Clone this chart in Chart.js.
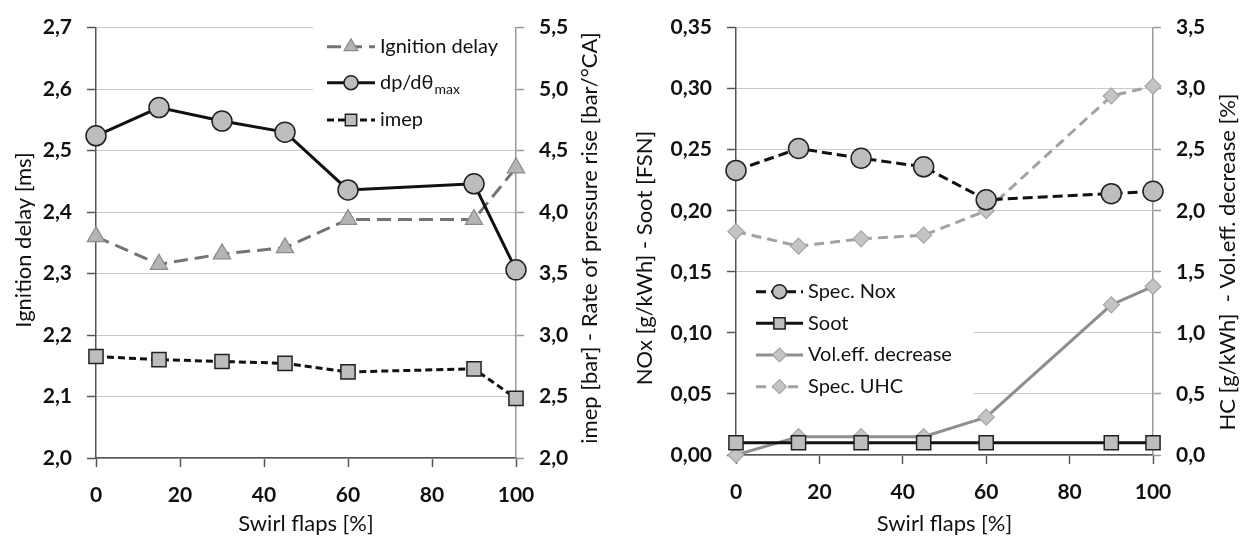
<!DOCTYPE html>
<html>
<head>
<meta charset="utf-8">
<script src="https://cdn.jsdelivr.net/npm/chart.js@4.4.1/dist/chart.umd.min.js"></script>
<style>
html,body{margin:0;padding:0;background:#fff;}
#wrap{position:relative;width:1251px;height:547px;overflow:hidden;}
canvas{position:absolute;top:0;}
#c1{left:0;}
#c2{left:625px;}
</style>
</head>
<body>
<div id="wrap">
<canvas id="c1" width="625" height="547"></canvas>
<canvas id="c2" width="626" height="547"></canvas>
</div>
<script>
// swirl flap position (x axis, both charts)
var swirl = [0, 15, 30, 45, 60, 90, 100];

// left chart
var ignitionDelay = [2.360, 2.315, 2.332, 2.342, 2.388, 2.388, 2.472]; // ms, left axis
var dpdtMax = [4.62, 4.85, 4.74, 4.65, 4.18, 4.23, 3.53];             // bar/°CA, right axis
var imep = [2.825, 2.80, 2.785, 2.77, 2.70, 2.725, 2.485];             // bar, right axis

// right chart
var specNox = [0.233, 0.251, 0.243, 0.236, 0.209, 0.214, 0.216];       // g/kWh, left axis
var soot = [0.01, 0.01, 0.01, 0.01, 0.01, 0.01, 0.01];                 // FSN, left axis
var volEffDecrease = [0.0, 0.15, 0.15, 0.15, 0.31, 1.23, 1.38];         // %, right axis
var specUHC = [1.83, 1.71, 1.77, 1.80, 2.00, 2.94, 3.02];               // g/kWh, right axis

var xTitle = 'Swirl flaps [%]';
var leftTitles = ['Ignition delay [ms]', 'imep [bar] - Rate of pressure rise [bar/°CA]'];
var rightTitles = ['NOx [g/kWh] - Soot [FSN]', 'HC [g/kWh]  - Vol.eff. decrease [%]'];

var FONT = 'Lato, "Open Sans", sans-serif';
var TXT = '#111';

function pts(ys) {
  return swirl.map(function (x, i) { return {x: x, y: ys[i]}; });
}
function comma(digits) {
  return function (v) { return v.toFixed(digits).replace('.', ','); };
}

// draws the legend box inside the plot and the rotated y titles
var extras = {
  id: 'extras',
  afterDraw: function (chart, args, o) {
    var ctx = chart.ctx;
    ctx.save();
    // white legend box
    ctx.fillStyle = '#fff';
    ctx.fillRect(o.box[0], o.box[1], o.box[2], o.box[3]);
    var ds = chart.data.datasets;
    for (var i = 0; i < ds.length; i++) {
      var d = ds[i], y = o.rows[i];
      ctx.strokeStyle = d.borderColor;
      ctx.lineWidth = d.borderWidth;
      ctx.setLineDash(d.borderDash || []);
      ctx.beginPath();
      ctx.moveTo(o.line[0], y);
      ctx.lineTo(o.line[1], y);
      ctx.stroke();
      ctx.setLineDash([]);
      ctx.fillStyle = d.pointBackgroundColor;
      ctx.strokeStyle = d.pointBorderColor;
      ctx.lineWidth = d.pointBorderWidth;
      Chart.helpers.drawPoint(ctx, {pointStyle: d.pointStyle, radius: d.legendRadius, rotation: 0, borderWidth: d.pointBorderWidth}, (o.line[0] + o.line[1]) / 2, y);
      ctx.fillStyle = TXT;
      ctx.font = '20px ' + FONT;
      ctx.textBaseline = 'middle';
      ctx.textAlign = 'left';
      ctx.fillText(d.label, o.textX, y);
      if (d.labelSub) {
        var w = ctx.measureText(d.label).width;
        ctx.font = '14px ' + FONT;
        ctx.fillText(d.labelSub, o.textX + w + 1, y + 7);
      }
    }
    // y axis titles, both reading bottom to top
    ctx.font = '22px ' + FONT;
    ctx.fillStyle = TXT;
    ctx.textAlign = 'center';
    ctx.textBaseline = 'middle';
    o.titles.forEach(function (t) {
      ctx.save();
      ctx.translate(t.x, t.y);
      ctx.rotate(-Math.PI / 2);
      ctx.fillText(t.text, 0, 0);
      ctx.restore();
    });
    ctx.restore();
  }
};

function scales(o) {
  var tickFont = {family: FONT, size: 21, weight: 'bold'};
  return {
    x: {
      type: 'linear', min: 0, max: 100,
      ticks: {stepSize: 20, color: TXT, font: tickFont, padding: 16, maxRotation: 0},
      grid: {drawOnChartArea: false, tickLength: 9, tickColor: '#555', tickWidth: 1.5},
      border: {color: '#555', width: 1.5},
      title: {display: true, text: xTitle, color: TXT, font: {family: FONT, size: 22}, padding: {top: 0, bottom: 10}},
      afterFit: function (s) { s.height = o.bottomH; }
    },
    y: {
      position: 'left', min: o.y1[0], max: o.y1[1],
      ticks: {stepSize: o.y1[2], color: TXT, font: tickFont, padding: 15, callback: comma(o.y1[3])},
      grid: {color: '#c8c8c8', lineWidth: 1, tickLength: 9, tickColor: '#555', tickWidth: 1.5},
      border: {color: '#555', width: 1.5},
      afterFit: function (s) { s.width = o.leftW; }
    },
    y2: {
      position: 'right', min: o.y2[0], max: o.y2[1],
      ticks: {stepSize: o.y2[2], color: TXT, font: tickFont, padding: 15, callback: comma(o.y2[3])},
      grid: {drawOnChartArea: false, tickLength: 8, tickColor: '#999', tickWidth: 1.5},
      border: {color: '#999', width: 1.5},
      afterFit: function (s) { s.width = o.rightW; }
    }
  };
}

var base = {
  responsive: false,
  animation: false,
  layout: {padding: {top: 18, left: 0, right: 0, bottom: 0}},
  elements: {line: {tension: 0}}
};

new Chart(document.getElementById('c1'), {
  type: 'line',
  data: {
    datasets: [
      {label: 'Ignition delay', data: pts(ignitionDelay), yAxisID: 'y', order: 1, clip: false,
       borderColor: '#747474', borderWidth: 3, borderDash: [14, 7],
       pointStyle: 'triangle', pointRadius: 10, legendRadius: 8,
       pointBackgroundColor: '#b4b4b4', pointBorderColor: '#8a8a8a', pointBorderWidth: 1.2},
      {label: 'dp/dθ', labelSub: 'max', data: pts(dpdtMax), yAxisID: 'y2', order: 0, clip: false,
       borderColor: '#111', borderWidth: 3,
       pointStyle: 'circle', pointRadius: 10, legendRadius: 7,
       pointBackgroundColor: '#bdbdbd', pointBorderColor: '#222', pointBorderWidth: 1.5},
      {label: 'imep', data: pts(imep), yAxisID: 'y2', order: 2, clip: false,
       borderColor: '#111', borderWidth: 3, borderDash: [7, 4],
       pointStyle: 'rect', pointRadius: 10, legendRadius: 8,
       pointBackgroundColor: '#bdbdbd', pointBorderColor: '#222', pointBorderWidth: 1.5}
    ]
  },
  options: Object.assign({}, base, {
    scales: scales({leftW: 96, rightW: 109, bottomH: 89, y1: [2.0, 2.7, 0.1, 1], y2: [2.0, 5.5, 0.5, 1]}),
    plugins: {
      legend: {display: false}, tooltip: {enabled: false},
      extras: {box: [313, 25, 201, 113], rows: [46.7, 82.7, 120], line: [327, 375], textX: 380,
        titles: [{text: leftTitles[0], x: 24, y: 240}, {text: leftTitles[1], x: 590, y: 238}]}
    }
  }),
  plugins: [extras]
});

new Chart(document.getElementById('c2'), {
  type: 'line',
  data: {
    datasets: [
      {label: 'Spec. Nox', data: pts(specNox), yAxisID: 'y', order: 0, clip: false,
       borderColor: '#111', borderWidth: 3, borderDash: [10, 5],
       pointStyle: 'circle', pointRadius: 10, legendRadius: 7,
       pointBackgroundColor: '#bdbdbd', pointBorderColor: '#222', pointBorderWidth: 1.5},
      {label: 'Soot', data: pts(soot), yAxisID: 'y', order: 1, clip: false,
       borderColor: '#111', borderWidth: 3,
       pointStyle: 'rect', pointRadius: 10, legendRadius: 8,
       pointBackgroundColor: '#bdbdbd', pointBorderColor: '#222', pointBorderWidth: 1.5},
      {label: 'Vol.eff. decrease', data: pts(volEffDecrease), yAxisID: 'y2', order: 2, clip: false,
       borderColor: '#8e8e8e', borderWidth: 3,
       pointStyle: 'rectRot', pointRadius: 8, legendRadius: 7,
       pointBackgroundColor: '#c4c4c4', pointBorderColor: '#a6a6a6', pointBorderWidth: 1.2},
      {label: 'Spec. UHC', data: pts(specUHC), yAxisID: 'y2', order: 3, clip: false,
       borderColor: '#a2a2a2', borderWidth: 3, borderDash: [10, 6],
       pointStyle: 'rectRot', pointRadius: 8, legendRadius: 7,
       pointBackgroundColor: '#c4c4c4', pointBorderColor: '#a6a6a6', pointBorderWidth: 1.2}
    ]
  },
  options: Object.assign({}, base, {
    scales: scales({leftW: 111, rightW: 98, bottomH: 92, y1: [0, 0.35, 0.05, 2], y2: [0, 3.5, 0.5, 1]}),
    plugins: {
      legend: {display: false}, tooltip: {enabled: false},
      extras: {box: [112, 272, 237, 148], rows: [291.7, 323.3, 355, 386.7], line: [131, 178], textX: 183,
        titles: [{text: rightTitles[0], x: 20, y: 258}, {text: rightTitles[1], x: 603, y: 262}]}
    }
  }),
  plugins: [extras]
});
</script>
</body>
</html>
